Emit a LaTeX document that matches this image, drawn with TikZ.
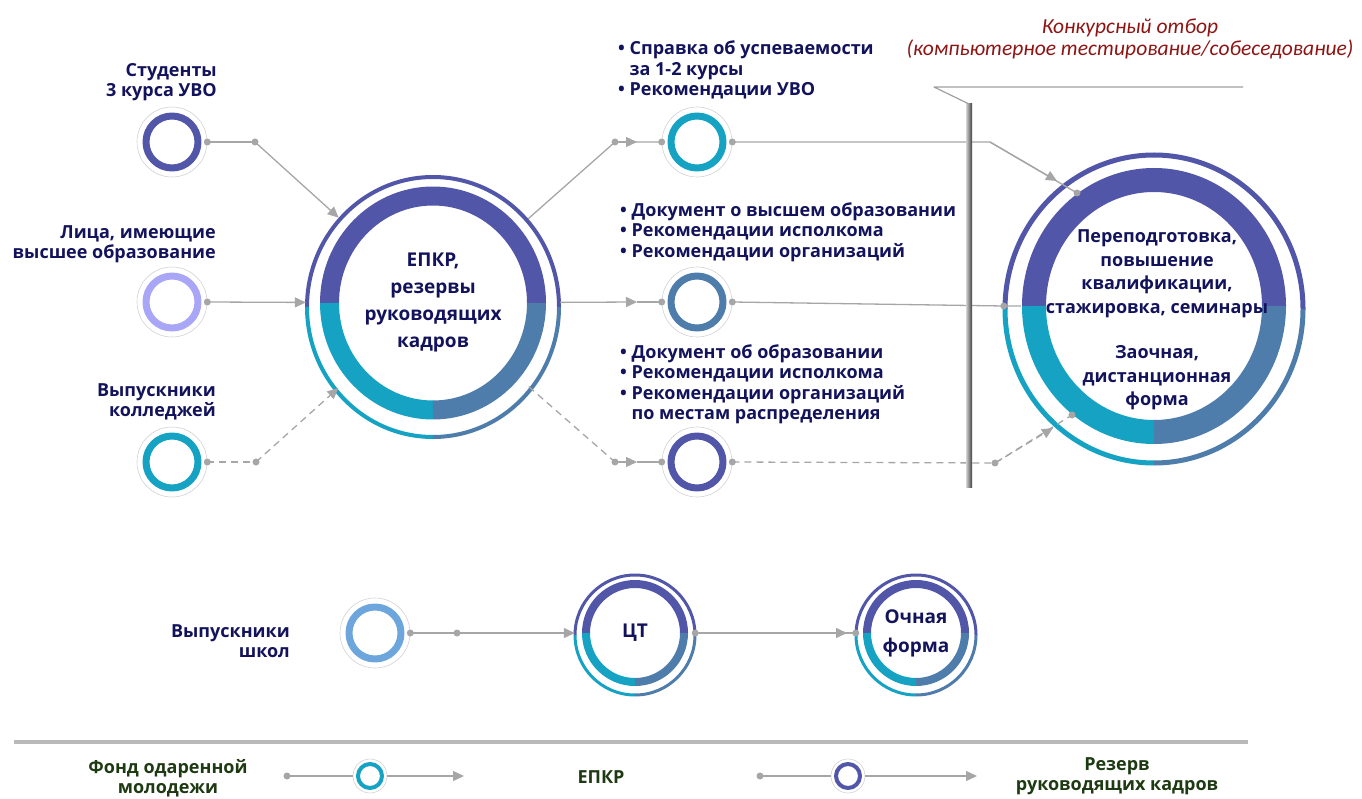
\documentclass[tikz,border=0pt]{standalone}
\usepackage{fontspec}
\setmainfont{Open Sans}
\newfontfamily\carlito{Carlito}
\usetikzlibrary{arrows.meta,calc}
\definecolor{cpur}{HTML}{5256A8}
\definecolor{ctea}{HTML}{15A2C3}
\definecolor{cste}{HTML}{4E7CAB}
\definecolor{clil}{HTML}{A9A5F7}
\definecolor{cgol}{HTML}{6CA6DC}
\definecolor{ctxt}{HTML}{13135C}
\definecolor{cred}{HTML}{8E1414}
\definecolor{czel}{HTML}{1E3A12}
\definecolor{csv}{HTML}{A6A6A6}
% kolco: centre, rx, ry, width, outer rx, outer ry, outer width, outer shift
\newcommand{\kolco}[8]{%
  \draw[cpur, line width=#4] (#1) ++(180:#2 and #3) arc[start angle=180, end angle=360, x radius=#2, y radius=#3];
  \draw[ctea, line width=#4] (#1) ++(90:#2 and #3) arc[start angle=90, end angle=180, x radius=#2, y radius=#3];
  \draw[cste, line width=#4] (#1) ++(0:#2 and #3) arc[start angle=0, end angle=90, x radius=#2, y radius=#3];
  \draw[cpur, line width=#7] ($(#1)+(0,#8)$) ++(180:#5 and #6) arc[start angle=180, end angle=360, x radius=#5, y radius=#6];
  \draw[ctea, line width=#7] ($(#1)+(0,#8)$) ++(90:#5 and #6) arc[start angle=90, end angle=180, x radius=#5, y radius=#6];
  \draw[cste, line width=#7] ($(#1)+(0,#8)$) ++(0:#5 and #6) arc[start angle=0, end angle=90, x radius=#5, y radius=#6];
}
\begin{document}
\begin{tikzpicture}[x=1pt, y=-1pt, line join=round,
  font=\fontsize{18}{20.5}\selectfont\bfseries, text=ctxt,
  conn/.style={csv, line width=1.3pt},
  pstr/.style={conn, dash pattern=on 7pt off 5pt},
  strl/.style={-{Triangle[length=11pt, width=10pt]}},
  uzel/.style={circle, draw=gray!35, line width=0.6pt, minimum size=70pt, inner sep=0pt},
  spisok/.style={anchor=west, align=left, inner sep=0pt},
  metka/.style={anchor=east, align=right, inner sep=0pt}]
\useasboundingbox (0,0) rectangle (1362,799);

% small circles
\foreach \nm/\xx/\yy/\col in {st/172/142/cpur, li/172/302/clil, ko/172/462/ctea,
  m1/697/142/ctea, m2/697/302/cste, m3/697/462/cpur, vs/375/633/cgol}{
  \node[uzel] (\nm) at (\xx,\yy) {};
  \draw[\col, line width=7pt] (\nm.center) circle[radius=26];
}
\node[metka] (tst) at (217,82) {Студенты\\3 курса УВО};
\node[metka] (tli) at (216,244) {Лица, имеющие\\высшее образование};
\node[metka] (tko) at (216,402) {Выпускники\\колледжей};
\node[metka] (tvs) at (290,641) {Выпускники\\школ};

% big circles
\node[circle, minimum size=254pt, inner sep=0pt, align=center,
  font=\fontsize{19}{27}\selectfont\bfseries] (epkr) at (433,303) {ЕПКР,\\резервы\\руководящих\\кадров};
\kolco{epkr.center}{103.5}{107}{19pt}{126}{130}{4pt}{4}
\node[circle, minimum size=300pt, inner sep=0pt] (pk) at (1154,306) {};
\kolco{pk.center}{120}{126}{24pt}{149}{154}{5pt}{3}
\node[align=center, font=\fontsize{18}{23.5}\selectfont\bfseries] (pktxt) at (1157,320)
  {Переподготовка,\\повышение\\квалификации,\\стажировка, семинары\\[22pt]Заочная,\\дистанционная\\форма};
\node[circle, minimum size=120pt, inner sep=0pt, font=\fontsize{19}{23}\selectfont\bfseries] (ct) at (635,633) {ЦТ};
\kolco{ct.center}{49}{49}{8pt}{60}{60}{3pt}{2}
\node[circle, minimum size=120pt, inner sep=0pt, align=center,
  font=\fontsize{19}{29}\selectfont\bfseries] (ochn) at (916,633) {Очная\\форма};
\kolco{ochn.center}{49}{49}{8pt}{60}{60}{3pt}{2}

% lists
\node[spisok] (sp1) at (618,70) {\textbullet\ Справка об успеваемости\\\phantom{\textbullet\ }за 1-2 курсы\\\textbullet\ Рекомендации УВО};
\node[spisok] (sp2) at (620,232) {\textbullet\ Документ о высшем образовании\\\textbullet\ Рекомендации исполкома\\\textbullet\ Рекомендации организаций};
\node[spisok] (sp3) at (620,384) {\textbullet\ Документ об образовании\\\textbullet\ Рекомендации исполкома\\\textbullet\ Рекомендации организаций\\\phantom{\textbullet\ }по местам распределения};
\node[font=\carlito\itshape\fontsize{21.5}{22}\selectfont, text=cred, align=center] (konk) at (1130,39)
  {Конкурсный отбор\\(компьютерное тестирование/собеседование)};

% connectors
\coordinate (k1) at (255,142);
\coordinate (k3) at (256,462);
\coordinate (k4) at (615,142); \coordinate (a4) at (637,142);
\coordinate (a5) at (637,302);
\coordinate (k6) at (615,462); \coordinate (a6) at (637,462);
\coordinate (k7) at (990,142); \coordinate (k8) at (1077,193); \coordinate (a8) at (1057,181);
\coordinate (k9) at (995,463); \coordinate (k10) at (1072,415); \coordinate (a10) at (1053,428);
\coordinate (k11) at (457,633); \coordinate (a12) at (847,633);

\draw[conn] (st.east) -- (k1);
\draw[conn, strl] (k1) -- (epkr);
\draw[conn, strl] (li.east) -- (epkr);
\draw[pstr] (ko.east) -- (k3);
\draw[pstr, strl] (k3) -- (epkr);

\draw[conn] (epkr) -- (k4) -- (m1.west);
\draw[conn, strl] (k4) -- (a4);
\draw[conn, strl] (epkr) -- (a5);
\draw[conn] (a5) -- (m2.west);
\draw[pstr] (epkr) -- (k6);
\draw[conn, strl] (k6) -- (a6);
\draw[conn] (a6) -- (m3.west);

\draw[conn] (m1.east) -- (k7) -- (k8);
\draw[conn, strl] (k7) -- (a8);
\draw[conn] (m2.east) -- (pk.west) -- ++(17,0);
\draw[pstr] (m3.east) -- (k9) -- (k10);
\draw[pstr, strl] (k9) -- (a10);

\draw[conn] (vs.east) -- (k11);
\draw[conn, strl] (k11) -- (ct);
\draw[conn] (ct.east) -- (ochn.west);
\draw[conn, strl] (ct.east) -- (a12);

\foreach \t in {st.east, k1, li.east, ko.east, k3, k4, m1.west, m1.east, m2.west, m2.east,
  k6, m3.west, m3.east, k8, pk.west, k9, k10, vs.east, k11, ct.east, ochn.west}
  \fill[csv] (\t) circle[radius=3.5];

% barrier
\shade[left color=gray!35, right color=black!75] (966,104) rectangle (972,487);
\draw[gray!75, line width=1.2pt] (1243,87) -- (934,87) -- (969,104);

% legend
\draw[gray!55, line width=4pt] (14,742) -- (1248,742);
\node[text=czel, align=center] (fond) at (168,778) {Фонд одаренной\\молодежи};
\node[text=czel] (lepkr) at (601,777) {ЕПКР};
\node[text=czel, align=center] (lrez) at (1117,776) {Резерв\\руководящих кадров};
\foreach \nm/\xx/\col in {lg1/370/ctea, lg2/848/cpur}{
  \node[uzel, minimum size=34pt] (\nm) at (\xx,776) {};
  \draw[\col, line width=4pt] (\nm.center) circle[radius=12];
}
\coordinate (lt1) at (287,776); \coordinate (la1) at (464,776);
\coordinate (lt2) at (760,776); \coordinate (la2) at (977,776);
\draw[conn] (lt1) -- (lg1);
\draw[conn, strl] (lg1) -- (la1);
\draw[conn] (lt2) -- (lg2);
\draw[conn, strl] (lg2) -- (la2);
\fill[csv] (lt1) circle[radius=3.5];
\fill[csv] (lt2) circle[radius=3.5];
\end{tikzpicture}
\end{document}
